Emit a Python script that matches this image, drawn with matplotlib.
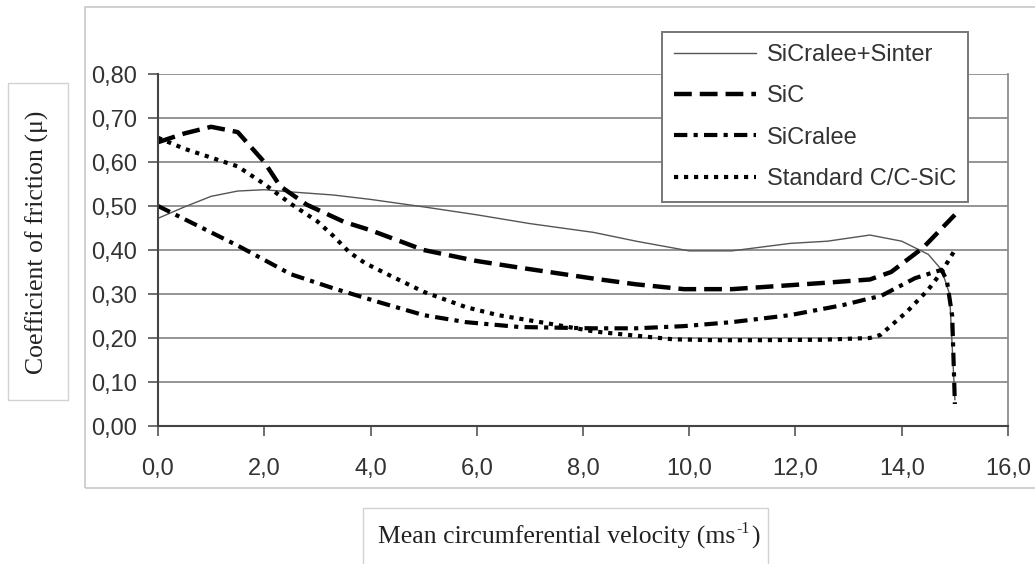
import matplotlib.pyplot as plt
from matplotlib.patches import Rectangle
from matplotlib.transforms import offset_copy

# velocity (m/s) and friction coefficient for each material
v_sinter = [0.0, 0.5, 1.0, 1.5, 2.0, 2.5, 3.3, 4.0, 5.0, 6.0, 7.0, 8.2, 9.0, 10.0, 10.8, 11.9, 12.6, 13.4, 14.0, 14.5, 14.75, 14.9, 15.0]
mu_sinter = [0.472, 0.498, 0.522, 0.534, 0.537, 0.532, 0.525, 0.515, 0.498, 0.48, 0.46, 0.44, 0.42, 0.398, 0.398, 0.415, 0.42, 0.434, 0.42, 0.39, 0.355, 0.30, 0.06]

v_sic = [0.0, 0.5, 1.0, 1.5, 2.0, 2.3, 2.8, 3.5, 4.0, 5.0, 6.0, 6.8, 8.2, 9.0, 9.9, 10.8, 11.9, 12.5, 13.4, 13.8, 14.4, 15.0]
mu_sic = [0.645, 0.665, 0.68, 0.668, 0.60, 0.545, 0.503, 0.464, 0.445, 0.40, 0.375, 0.36, 0.335, 0.322, 0.311, 0.311, 0.32, 0.325, 0.333, 0.35, 0.405, 0.48]

v_sicralee = [0.0, 0.5, 1.0, 1.5, 2.5, 3.3, 4.2, 5.0, 5.8, 6.8, 8.2, 9.0, 9.9, 10.8, 11.9, 12.9, 13.4, 13.6, 14.25, 14.75, 14.85, 14.95, 15.0]
mu_sicralee = [0.50, 0.47, 0.44, 0.41, 0.345, 0.313, 0.28, 0.252, 0.236, 0.225, 0.222, 0.222, 0.227, 0.236, 0.252, 0.275, 0.29, 0.295, 0.336, 0.355, 0.33, 0.25, 0.05]

v_std = [0.0, 0.5, 1.0, 1.5, 2.0, 2.5, 3.0, 3.3, 3.6, 3.9, 4.4, 5.0, 5.8, 6.4, 7.3, 8.2, 8.6, 9.7, 10.5, 11.3, 12.5, 13.4, 13.6, 14.1, 14.5, 14.75, 15.0]
mu_std = [0.655, 0.63, 0.61, 0.59, 0.55, 0.505, 0.465, 0.432, 0.395, 0.37, 0.34, 0.305, 0.27, 0.252, 0.234, 0.215, 0.21, 0.197, 0.195, 0.195, 0.196, 0.2, 0.207, 0.26, 0.31, 0.35, 0.40]

labels = ['SiCralee+Sinter', 'SiC', 'SiCralee', 'Standard C/C-SiC']
x_ticks = [0, 2, 4, 6, 8, 10, 12, 14, 16]
x_ticklabels = ['0,0', '2,0', '4,0', '6,0', '8,0', '10,0', '12,0', '14,0', '16,0']
y_ticks = [0.0, 0.1, 0.2, 0.3, 0.4, 0.5, 0.6, 0.7, 0.8]
y_ticklabels = ['0,00', '0,10', '0,20', '0,30', '0,40', '0,50', '0,60', '0,70', '0,80']

plt.rcParams['font.family'] = ['Liberation Sans', 'DejaVu Sans']
serif = ['Liberation Serif', 'DejaVu Serif']

W, H = 1035, 564
fig = plt.figure(figsize=(W / 100, H / 100), dpi=100)
fig.patch.set_facecolor('white')

# outer chart frame and the two label boxes
fig.patches.append(Rectangle((85 / W, 1 - 488 / H), 960 / W, 481 / H, transform=fig.transFigure,
                             fill=False, edgecolor='#c8c8c8', lw=1.2))
fig.patches.append(Rectangle((8 / W, 1 - 400 / H), 60 / W, 317 / H, transform=fig.transFigure,
                             fill=False, edgecolor='#d2d2d2', lw=1.0))
fig.patches.append(Rectangle((363 / W, 1 - 575 / H), 405 / W, 67 / H, transform=fig.transFigure,
                             fill=False, edgecolor='#d2d2d2', lw=1.0))

ax = fig.add_axes([158 / W, 1 - 426 / H, 850 / W, 352 / H])

ax.plot(v_sinter, mu_sinter, color='#555555', lw=1.0, label=labels[0])
ax.plot(v_sic, mu_sic, color='black', lw=3.2, dashes=(4.0, 1.8), label=labels[1])
ax.plot(v_sicralee, mu_sicralee, color='black', lw=3.0, dashes=(3.2, 1.5, 1.0, 1.5), label=labels[2])
ax.plot(v_std, mu_std, color='black', lw=3.0, dashes=(1.0, 1.4), label=labels[3])

ax.set_xlim(0, 16)
ax.set_ylim(0, 0.8)
ax.set_xticks(x_ticks)
ax.set_xticklabels(x_ticklabels)
ax.set_yticks(y_ticks)
ax.set_yticklabels(y_ticklabels)
ax.tick_params(axis='x', direction='out', length=7, width=1.2, color='#555555',
               labelsize=17, labelcolor='#333333', pad=16)
ax.tick_params(axis='y', direction='out', length=7, width=1.2, color='#555555',
               labelsize=17, labelcolor='#333333', pad=8)

ax.grid(axis='y', color='#8c8c8c', lw=1.3)
ax.set_axisbelow(True)
ax.spines['top'].set_visible(False)
ax.spines['right'].set_color('#8c8c8c')
ax.spines['right'].set_linewidth(1.3)
ax.spines['left'].set_color('#444444')
ax.spines['bottom'].set_color('#444444')
ax.spines['left'].set_linewidth(1.5)
ax.spines['bottom'].set_linewidth(1.5)

leg = ax.legend(loc='upper left', bbox_to_anchor=(662 / W, 1 - 32 / H), bbox_transform=fig.transFigure,
                fontsize=17, frameon=True, fancybox=False, framealpha=1, edgecolor='#777777',
                borderaxespad=0, borderpad=0.5, handlelength=3.5, handletextpad=0.45, labelspacing=0.82)
leg.get_frame().set_linewidth(1.4)
for t in leg.get_texts():
    t.set_color('#333333')

fig.text(37 / W, 1 - 242 / H, 'Coefficient of friction (μ)', rotation=90, ha='center', va='center',
         fontsize=18.5, family=serif, color='#222222')

# x label written in pieces so the "-1" exponent keeps a plain hyphen
xl = fig.text(378 / W, 1 - 535 / H, 'Mean circumferential velocity (ms', ha='left', va='center_baseline',
              fontsize=18.5, family=serif, color='#222222')
fig.canvas.draw()
r = fig.canvas.get_renderer()
bb = xl.get_window_extent(r)
sup = fig.text(bb.x1 / W, 1 - 535 / H, '-1', ha='left', va='center_baseline', fontsize=11.5, family=serif,
               color='#222222', transform=offset_copy(fig.transFigure, fig=fig, x=0.5, y=6, units='points'))
bb2 = sup.get_window_extent(r)
fig.text(bb2.x1 / W, 1 - 535 / H, ')', ha='left', va='center_baseline', fontsize=18.5, family=serif,
         color='#222222', transform=offset_copy(fig.transFigure, fig=fig, x=1.5, y=0, units='points'))

fig.savefig('out.png', dpi=100)
